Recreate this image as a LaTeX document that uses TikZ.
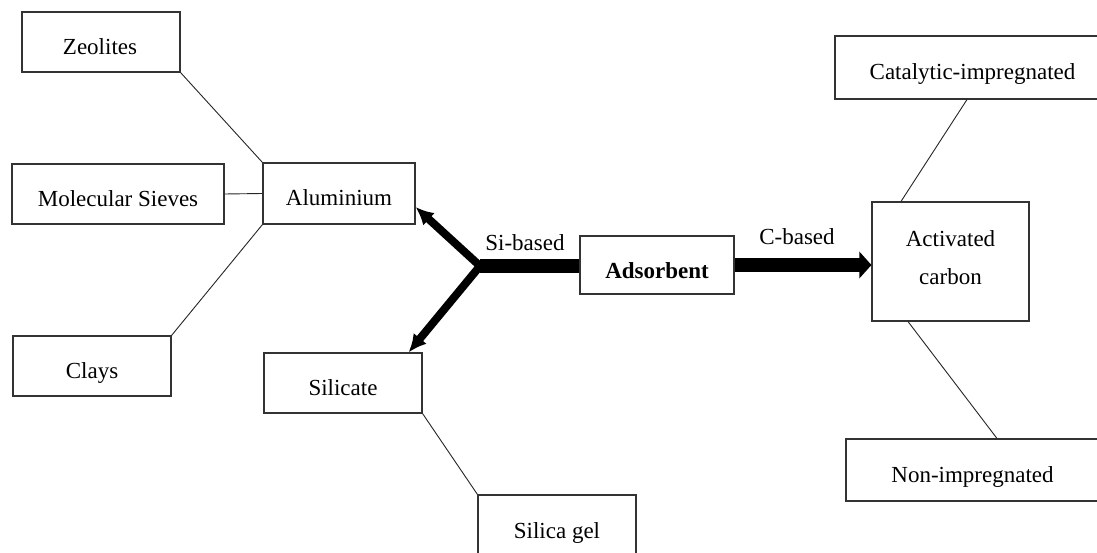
\documentclass[tikz,border=0pt]{standalone}
\usepackage{fontspec}
\setmainfont{Liberation Serif}
\usetikzlibrary{arrows.meta}
\begin{document}
\begin{tikzpicture}[x=1pt,y=-1pt,
  box/.style={draw=black!80, line width=1.1pt, inner sep=0pt},
  lbl/.style={font=\fontsize{23}{38}\selectfont, anchor=base, inner sep=0pt},
  link/.style={draw=black!85, line width=0.9pt},
  fat/.style={line width=13.5pt},
  branch/.style={line width=8pt, line join=miter},
]
\clip (0,0) rectangle (1097,553);
\fill[white] (0,0) rectangle (1097,553);

% boxes
\node[box, minimum width=158pt, minimum height=60pt] (zeo) at (101,42) {};
\node[box, minimum width=212pt, minimum height=60pt] (ms)  at (118,194) {};
\node[box, minimum width=152pt, minimum height=61pt] (al)  at (339,193.5) {};
\node[box, minimum width=158pt, minimum height=60pt] (cl)  at (92,366) {};
\node[box, minimum width=158pt, minimum height=60pt] (sil) at (343,383) {};
\node[box, minimum width=158pt, minimum height=62pt] (gel) at (557,526) {};
\node[box, minimum width=154pt, minimum height=58pt] (ads) at (657,265) {};
\node[box, minimum width=157pt, minimum height=119pt] (ac) at (950.5,261.5) {};
\node[box, minimum width=275pt, minimum height=63pt] (cat) at (972.5,67.5) {};
\node[box, minimum width=253pt, minimum height=62pt] (non) at (972.5,470) {};

% texts
\node[lbl] (tzeo) at (100,54.5) {Zeolites};
\node[lbl] (tms)  at (118,206.5) {Molecular Sieves};
\node[lbl] (tal)  at (339,206) {Aluminium};
\node[lbl] (tcl)  at (92,378.5) {Clays};
\node[lbl] (tsil) at (343,395.5) {Silicate};
\node[lbl] (tgel) at (557,538) {Silica gel};
\node[lbl] (tads) at (657,278) {\bfseries Adsorbent};
\node[font=\fontsize{23}{38}\selectfont, align=center, inner sep=0pt] (tac) at (950.5,258) {Activated\\carbon};
\node[lbl] (tcat) at (972.5,79.5) {Catalytic-impregnated};
\node[lbl] (tnon) at (972.5,482) {Non-impregnated};
\node[lbl] (tsi) at (525,251) {Si-based};
\node[lbl] (tc)  at (797,245) {C-based};

% thin connectors
\draw[link] (zeo.south east) -- (al.north west);
\draw[link] (ms.east) -- (al.west);
\draw[link] (al.south west) -- (cl.north east);
\draw[link] (sil.south east) -- (gel.north west);
\draw[link] ([xshift=-5.5pt]cat.south) -- ([xshift=-49.5pt]ac.north);
\draw[link] ([xshift=-42.5pt]ac.south) -- ([xshift=24.5pt]non.north);

% thick arrows
\coordinate (J) at (480,266);
\draw[fat] (J) -- (J -| ads.west);
\draw[branch, {Latex[length=18pt,width=17pt]}-{Latex[length=18pt,width=17pt]}]
  ([yshift=-13.5pt]al.east) -- (J) -- ([xshift=-14pt]sil.north east);
\draw[fat, -{Triangle[length=12pt,width=26pt]}] (ads.east) -- (ads.east -| ac.west);
\end{tikzpicture}
\end{document}
